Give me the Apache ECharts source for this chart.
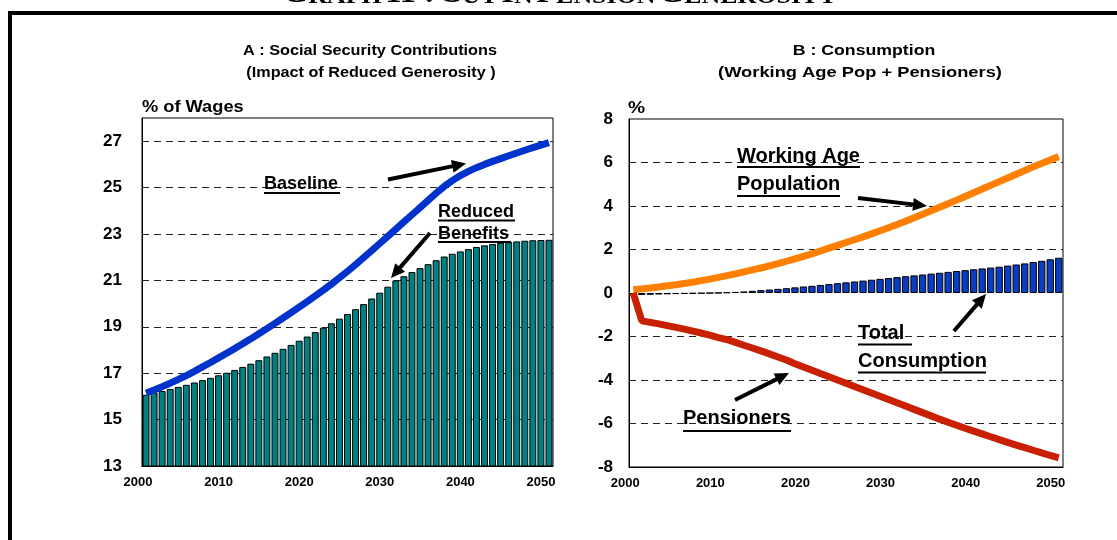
<!DOCTYPE html>
<html><head><meta charset="utf-8">
<script src="https://cdn.jsdelivr.net/npm/echarts@6/dist/echarts.min.js"></script>
<style>html,body{margin:0;padding:0;background:#fff}#c{width:1117px;height:540px}</style>
</head><body><div id="c"></div>
<script>
// ---------- DATA ----------
const years = ['2000','2001','2002','2003','2004','2005','2006','2007','2008','2009',
'2010','2011','2012','2013','2014','2015','2016','2017','2018','2019',
'2020','2021','2022','2023','2024','2025','2026','2027','2028','2029',
'2030','2031','2032','2033','2034','2035','2036','2037','2038','2039',
'2040','2041','2042','2043','2044','2045','2046','2047','2048','2049','2050'];

// Panel A : % of wages
const reducedBenefits = [16.07,16.15,16.23,16.32,16.41,16.50,16.60,16.70,16.80,16.91,
17.02,17.14,17.27,17.41,17.56,17.72,17.88,18.05,18.22,18.40,
18.58,18.77,18.96,19.15,19.35,19.55,19.76,19.98,20.22,20.47,
20.73,21.00,21.18,21.36,21.53,21.70,21.87,22.03,22.15,22.25,
22.35,22.44,22.51,22.57,22.62,22.65,22.68,22.71,22.73,22.74,22.75];
const baseline = [16.15,16.28,16.42,16.57,16.73,16.90,17.08,17.27,17.46,17.66,
17.86,18.06,18.27,18.48,18.70,18.92,19.15,19.38,19.61,19.85,
20.09,20.33,20.58,20.84,21.11,21.39,21.68,21.98,22.28,22.59,
22.90,23.21,23.52,23.83,24.14,24.45,24.76,25.05,25.30,25.52,
25.70,25.86,26.00,26.13,26.25,26.37,26.49,26.61,26.72,26.83,26.94];

// Panel B : consumption, %
const totalConsumption = [-0.10,-0.09,-0.08,-0.07,-0.06,-0.05,-0.04,-0.03,-0.02,-0.01,
0.01,0.03,0.05,0.07,0.10,0.13,0.16,0.19,0.22,0.26,
0.30,0.33,0.37,0.41,0.45,0.49,0.53,0.57,0.61,0.65,
0.69,0.73,0.77,0.81,0.85,0.89,0.93,0.97,1.01,1.05,
1.09,1.13,1.17,1.21,1.26,1.31,1.36,1.42,1.48,1.55,1.62];
const workingAge = [0.15,0.19,0.23,0.28,0.33,0.38,0.44,0.50,0.57,0.64,
0.72,0.80,0.88,0.97,1.06,1.15,1.25,1.35,1.46,1.57,
1.68,1.80,1.93,2.06,2.19,2.32,2.45,2.58,2.72,2.86,
3.00,3.15,3.30,3.46,3.62,3.78,3.94,4.10,4.27,4.44,
4.61,4.78,4.95,5.12,5.29,5.46,5.63,5.80,5.96,6.12,6.28];
const pensioners = [0.00,-1.28,-1.35,-1.42,-1.50,-1.58,-1.66,-1.75,-1.84,-1.94,
-2.05,-2.14,-2.27,-2.40,-2.53,-2.66,-2.80,-2.94,-3.08,-3.25,
-3.40,-3.55,-3.70,-3.85,-4.00,-4.15,-4.30,-4.45,-4.60,-4.75,
-4.90,-5.05,-5.20,-5.35,-5.50,-5.65,-5.80,-5.94,-6.08,-6.22,
-6.35,-6.48,-6.61,-6.74,-6.87,-6.99,-7.11,-7.23,-7.35,-7.47,-7.58];

const gridLinesA = [15,17,19,21,23,25,27];
const gridLinesB = [6,4,2,-2,-4,-6];

// ---------- STYLE ----------
const SANS = "'Liberation Sans', Arial, sans-serif";
const SERIF = "'Liberation Serif', 'Times New Roman', serif";

function arrow(x1,y1,x2,y2){
  const a = Math.atan2(y2-y1,x2-x1), L=14, W=6.5;
  const c=Math.cos(a), s=Math.sin(a);
  const bx=x2-L*c, by=y2-L*s;
  return [
    {type:'line', z:50, shape:{x1:x1,y1:y1,x2:bx+2*c,y2:by+2*s}, style:{stroke:'#000',lineWidth:4}},
    {type:'polygon', z:50, shape:{points:[[x2,y2],[bx-W*s,by+W*c],[bx+W*s,by-W*c]]}, style:{fill:'#000'}}
  ];
}
function ulabel(text,x,yc,size,ulY,ulX2){
  return [
    {type:'text', z:50, style:{text:text,x:x,y:yc,verticalAlign:'middle',align:'left',
      font:'bold '+size+'px '+SANS, fill:'#000'}},
    {type:'line', z:50, shape:{x1:x,y1:ulY,x2:ulX2,y2:ulY}, style:{stroke:'#000',lineWidth:2}}
  ];
}
function stext(text,x,y,size,sx,align){
  return {type:'text', x:x, y:y, scaleX:sx, z:40,
    style:{text:text, x:0, y:0, align:align||'center', verticalAlign:'middle',
      font:'bold '+size+'px '+SANS, fill:'#000'}};
}

const dashStyle = {color:'#222', width:1, type:[7,5]};
function gridMarks(vals){
  return {silent:true, symbol:'none', z:1, label:{show:false},
    lineStyle:dashStyle, data: vals.map(v=>({yAxis:v}))};
}

const catAxis = (gi)=>({
  type:'category', gridIndex:gi, data:years, boundaryGap:true,
  axisLine:{show:true,onZero:false,lineStyle:{color:'#000',width:1}},
  axisTick:{show:false},
  axisLabel:{interval:9, fontFamily:SANS, fontWeight:'bold', fontSize:13, color:'#000',
    margin:10, padding:[0,16,0,0]},
  splitLine:{show:false}
});

const chart = echarts.init(document.getElementById('c'), null, {renderer:'canvas'});
const g = [];
// main title (cut off at top)
g.push({type:'text', z:40, x:560, y:9, scaleX:1.08, style:{
  text:'{b|G}{s|RAPH} {b|11 :} {b|C}{s|UT} {b|I}{s|N} {b|P}{s|ENSION} {b|G}{s|ENEROSITY}',
  x:0, y:0, align:'center', verticalAlign:'bottom',
  rich:{b:{font:'bold 30px '+SERIF, fill:'#000', verticalAlign:'bottom'},
        s:{font:'bold 24px '+SERIF, fill:'#000', verticalAlign:'bottom'}}}});
// frame
g.push({type:'polyline', z:60, shape:{points:[[10,540],[10,13],[1117,13]]}, style:{stroke:'#000',lineWidth:4,fill:null}});
// panel titles
g.push(stext('A : Social Security Contributions',370,51,15,1.085));
g.push(stext('(Impact of Reduced Generosity )',371,73,15,1.08));
g.push(stext('B : Consumption',864,51,15,1.18));
g.push(stext('(Working Age Pop + Pensioners)',860,73,15,1.22));
// axis units
g.push(stext('% of Wages',142,108,16,1.14,'left'));
g.push(stext('%',628,109,16,1.2,'left'));
// annotations
g.push(...ulabel('Baseline',264,184,18,193,340));
g.push(...arrow(388,179.5,466,163.5));
g.push(...ulabel('Reduced',438,212,18,220.5,515));
g.push(...ulabel('Benefits',438,234,18,242,511));
g.push(...arrow(430,233,391,278));
g.push(...ulabel('Working Age',737,156,20,167,860));
g.push(...ulabel('Population',737,184,20,196,840));
g.push(...arrow(858,198,927,206));
g.push(...ulabel('Total',858,333,20,344.5,912));
g.push(...ulabel('Consumption',858,361,20,372.5,986));
g.push(...arrow(954,331,986,294));
g.push(...ulabel('Pensioners',683,418,20,431,791));
g.push(...arrow(735,400,789,373));

chart.setOption({
  animation:false,
  backgroundColor:'#fff',
  grid:[
    {left:142, top:118, width:411, height:348, show:true, borderColor:'#000', borderWidth:1, backgroundColor:'transparent'},
    {left:629, top:119, width:434, height:348, show:true, borderColor:'#000', borderWidth:1, backgroundColor:'transparent'}
  ],
  xAxis:[catAxis(0), catAxis(1)],
  yAxis:[
    {type:'value', gridIndex:0, min:13, max:28, interval:1,
      axisLine:{show:true,lineStyle:{color:'#000'}}, axisTick:{show:false}, splitLine:{show:false},
      axisLabel:{fontFamily:SANS,fontWeight:'bold',fontSize:17,color:'#000',margin:20,
        formatter:(v)=> (v%2===1 && v<28) ? String(v) : ''}},
    {type:'value', gridIndex:1, min:-8, max:8, interval:2,
      axisLine:{show:true,lineStyle:{color:'#000'}}, axisTick:{show:false}, splitLine:{show:false},
      axisLabel:{fontFamily:SANS,fontWeight:'bold',fontSize:17,color:'#000',margin:16}}
  ],
  series:[
    {type:'bar', name:'Reduced Benefits', xAxisIndex:0, yAxisIndex:0, data:reducedBenefits,
      barCategoryGap:'14%', z:2,
      itemStyle:{color:'#008080', borderColor:'#000', borderWidth:1},
      markLine:gridMarks(gridLinesA)},
    {type:'line', name:'Baseline', xAxisIndex:0, yAxisIndex:0, data:baseline, symbol:'none', z:3,
      lineStyle:{color:'#0033CC', width:7}},
    {type:'bar', name:'Total Consumption', xAxisIndex:1, yAxisIndex:1, data:totalConsumption,
      barCategoryGap:'14%', z:2,
      itemStyle:{color:'#0a3cc4', borderColor:'#000', borderWidth:1},
      markLine:gridMarks(gridLinesB)},
    {type:'line', name:'Working Age Population', xAxisIndex:1, yAxisIndex:1, data:workingAge, symbol:'none', z:3,
      lineStyle:{color:'#FF8000', width:7}},
    {type:'line', name:'Pensioners', xAxisIndex:1, yAxisIndex:1, data:pensioners, symbol:'none', z:4,
      lineStyle:{color:'#C82000', width:7}}
  ],
  graphic:g
});
</script></body></html>
